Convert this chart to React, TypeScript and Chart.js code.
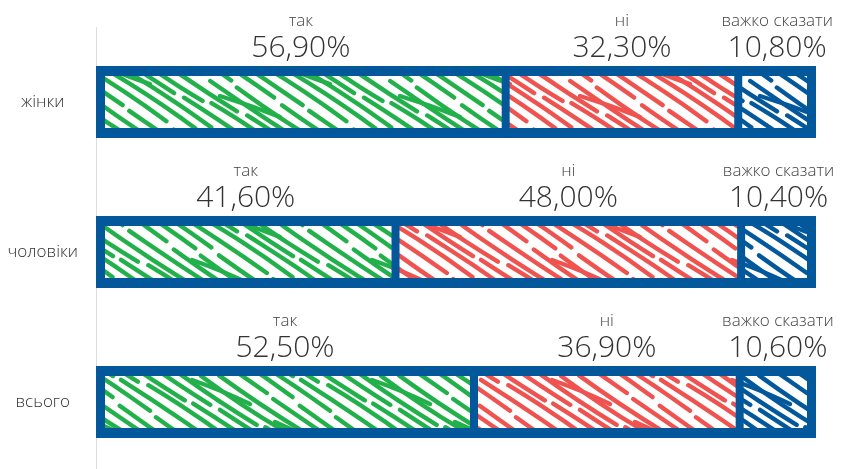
import React, { useEffect, useRef } from "react";
import { Chart, registerables } from "chart.js";

Chart.register(...registerables);

const categories = ["жінки", "чоловіки", "всього"];
const seriesNames = ["так", "ні", "важко сказати"];
const yesValues = [56.9, 41.6, 52.5];
const noValues = [32.3, 48.0, 36.9];
const hardValues = [10.8, 10.4, 10.6];
const seriesColors = ["#22b04b", "#ef5350", "#03589c"];
const borderBlue = "#03589c";

function makePattern(color: string): CanvasPattern | string {
  const c = document.createElement("canvas");
  const W = 180;
  const H = 120;
  c.width = W;
  c.height = H;
  const g = c.getContext("2d");
  if (!g) return color;
  g.fillStyle = "#ffffff";
  g.fillRect(0, 0, W, H);
  g.strokeStyle = color;
  g.lineWidth = 4.4;
  g.lineCap = "round";
  const len = Math.hypot(W, H);
  const nx = -H / len;
  const ny = W / len;
  const breaks = [0.1, 0.6, 0.3, 0.85, 0.45, 0.15, 0.7, 0.35, 0.9, 0.55];
  const jit = [1.5, -1.2, 0.8, -1.6, 1.1, -0.7, 1.4, -1.0, 0.6, -1.4];
  const strokes: number[][] = [];
  for (let k = 0; k < 10; k++) {
    const sx = k * 18;
    const b = breaks[k];
    const segs = [
      [b + 0.02, b + 0.47, jit[k]],
      [b + 0.52, b + 0.98, -jit[k]],
    ];
    for (const [a, e, j] of segs) {
      strokes.push([sx + a * W + nx * j, a * H + ny * j, sx + e * W + nx * j, e * H + ny * j, j * 2]);
    }
  }
  strokes.push([12, 20, 70, 44, -2]);
  strokes.push([95, 62, 150, 84, 2]);
  strokes.push([40, 96, 100, 117, -1.5]);
  for (const [x0, y0, x1, y1, bend] of strokes) {
    for (const dx of [-2 * W, -W, 0, W]) {
      for (const dy of [-2 * H, -H, 0, H]) {
        g.beginPath();
        g.moveTo(x0 + dx, y0 + dy);
        g.quadraticCurveTo((x0 + x1) / 2 + dx, (y0 + y1) / 2 + dy + bend, x1 + dx, y1 + dy);
        g.stroke();
      }
    }
  }
  const p = g.createPattern(c, "repeat");
  return p || color;
}

const fmt = (v: number) => v.toFixed(2).replace(".", ",") + "%";

const labelPlugin = {
  id: "segLabels",
  afterDatasetsDraw(chart: any) {
    const ctx = chart.ctx;
    ctx.save();
    ctx.textAlign = "center";
    ctx.textBaseline = "middle";
    chart.data.datasets.forEach((ds: any, di: number) => {
      const meta = chart.getDatasetMeta(di);
      meta.data.forEach((el: any, i: number) => {
        const cx = (el.x + el.base) / 2;
        const top = el.y - el.height / 2;
        ctx.fillStyle = "#444";
        ctx.font = "300 17px 'Open Sans', 'DejaVu Sans', sans-serif";
        ctx.fillText(ds.label, cx, top - 46);
        ctx.fillStyle = "#333";
        ctx.font = "300 30px 'Open Sans', 'DejaVu Sans', sans-serif";
        ctx.fillText(fmt(ds.data[i]), cx, top - 19);
      });
    });
    ctx.restore();
  },
};

export default function App() {
  const ref = useRef<HTMLCanvasElement | null>(null);
  useEffect(() => {
    if (!ref.current) return;
    const values = [yesValues, noValues, hardValues];
    const bw = [
      { top: 10, bottom: 10, left: 10, right: 5 },
      { top: 10, bottom: 10, left: 5, right: 5 },
      { top: 10, bottom: 10, left: 5, right: 10 },
    ];
    const chart = new Chart(ref.current, {
      type: "bar",
      data: {
        labels: categories,
        datasets: seriesNames.map((name, i) => ({
          label: name,
          data: values[i],
          backgroundColor: makePattern(seriesColors[i]),
          borderColor: borderBlue,
          borderWidth: bw[i],
          borderSkipped: false,
          inflateAmount: 1,
          barThickness: 70,
        })),
      },
      options: {
        indexAxis: "y",
        responsive: false,
        animation: false,
        layout: { padding: { top: 27, right: 26, bottom: 0, left: 0 } },
        plugins: { legend: { display: false }, tooltip: { enabled: false } },
        scales: {
          x: { stacked: true, min: 0, max: 100, display: false },
          y: {
            stacked: true,
            grid: { display: false, drawTicks: false },
            border: { display: true, color: "#dddddd", width: 1 },
            ticks: {
              crossAlign: "center",
              padding: 18,
              color: "#333",
              font: { family: "'Open Sans', 'DejaVu Sans', sans-serif", size: 17, weight: "300" },
            },
            afterFit(scale: any) {
              scale.width = 96;
              scale.paddingTop = 0;
              scale.paddingBottom = 0;
            },
          },
        },
      },
      plugins: [labelPlugin],
    } as any);
    return () => chart.destroy();
  }, []);
  return (
    <canvas
      ref={ref}
      width={842}
      height={477}
      style={{ position: "fixed", left: 0, top: 0, display: "block", background: "#fff" }}
    />
  );
}
